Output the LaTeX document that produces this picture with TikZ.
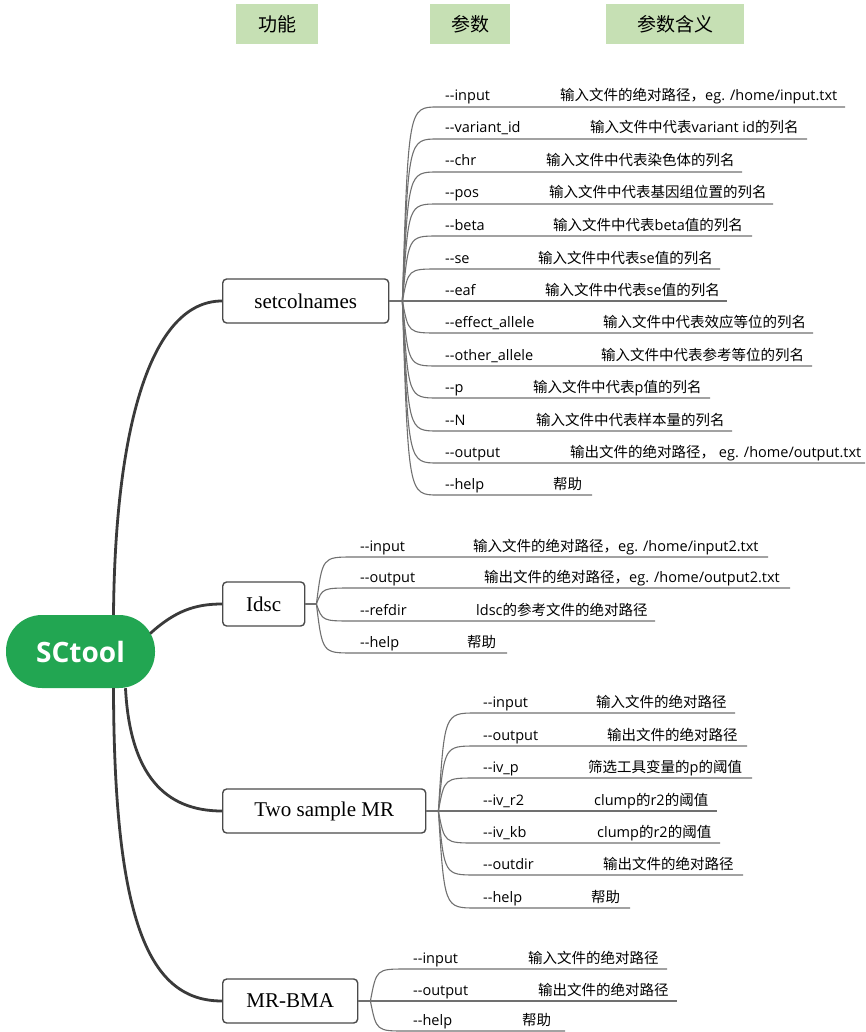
\documentclass[tikz,border=0pt]{standalone}
\usepackage{fontspec}
\setmainfont{Open Sans}
\newfontfamily\cjk{Noto Sans CJK SC}
\newfontfamily\boxserif{Liberation Serif}
\newcommand{\zh}[1]{{\cjk #1}}

\definecolor{rootgreen}{HTML}{22A652}
\definecolor{hdrgreen}{HTML}{C6E0B4}
\definecolor{trunk}{HTML}{3A3A3A}
\definecolor{twig}{HTML}{707070}
\definecolor{boxline}{HTML}{4A4A4A}

\tikzset{
  hdr/.style={fill=hdrgreen, minimum height=40, inner sep=0pt, font=\cjk\fontsize{19}{22}\selectfont},
  root/.style={fill=rootgreen, rounded corners=36, minimum width=149, minimum height=73,
    text=white, font=\fontsize{28}{32}\selectfont\bfseries},
  func/.style={draw=boxline, line width=1.4, rounded corners=4, fill=white, anchor=west,
    minimum height=44, font=\boxserif\fontsize{21}{24}\selectfont},
  opt/.style={anchor=base west, inner sep=0pt, font=\fontsize{14.5}{17}\selectfont},
  trunkline/.style={draw=trunk, line width=2.8},
  twigline/.style={draw=twig, line width=1.1},
}

\begin{document}
\begin{tikzpicture}[x=1pt,y=-1pt]
  \useasboundingbox (0,0) rectangle (865,1032);

  % column headers
  \node[hdr, minimum width=82] (hfunc) at (277,24) {功能};
  \node[hdr, minimum width=80] (hpar) at (470,24) {参数};
  \node[hdr, minimum width=138] (hmean) at (675,24) {参数含义};

  % root and functions
  \node[root] (root) at (80.5,651.5) {SCtool};
  \node[func, minimum width=166] (setcol) at (222,301) {setcolnames};
  \node[func, minimum width=82] (ldsc) at (222,604) {Idsc};
  \node[func, minimum width=203] (twomr) at (222,811) {Two sample MR};
  \node[func, minimum width=135] (mrbma) at (222,1001) {MR-BMA};

  \begin{scope}[trunkline]
    \draw ([xshift=33pt]root.north) .. controls (115,430) and (150,301) .. (setcol.west);
    \draw ([xshift=-5pt,yshift=18pt]root.east) .. controls (175,611) and (195,604) .. (ldsc.west);
    \draw ([xshift=45pt]root.south) .. controls (130,775) and (165,811) .. (twomr.west);
    \draw ([xshift=33pt]root.south) .. controls (114,925) and (150,1001) .. (mrbma.west);
  \end{scope}

  % setcolnames options
  \coordinate (fA) at ([xshift=13pt]setcol.east);
  \coordinate (a1) at (438,107);  \coordinate (a1e) at (845,107);
  \coordinate (a2) at (438,139);  \coordinate (a2e) at (807,139);
  \coordinate (a3) at (438,172);  \coordinate (a3e) at (742,172);
  \coordinate (a4) at (438,204);  \coordinate (a4e) at (773,204);
  \coordinate (a5) at (438,236);  \coordinate (a5e) at (752,236);
  \coordinate (a6) at (438,269);  \coordinate (a6e) at (720,269);
  \coordinate (a7) at (438,301);  \coordinate (a7e) at (727,301);
  \coordinate (a8) at (438,333);  \coordinate (a8e) at (813,333);
  \coordinate (a9) at (438,366);  \coordinate (a9e) at (812,366);
  \coordinate (a10) at (438,398); \coordinate (a10e) at (710,398);
  \coordinate (a11) at (438,431); \coordinate (a11e) at (732,431);
  \coordinate (a12) at (438,463); \coordinate (a12e) at (865,463);
  \coordinate (a13) at (438,495); \coordinate (a13e) at (592,495);
  \node[opt] (a1o) at (445,101) {-{}-input};
  \node[opt] (a1d) at (560,101) {\zh{输入文件的绝对路径，}eg. /home/input.txt};
  \node[opt] (a2o) at (445,133) {-{}-variant\_id};
  \node[opt] (a2d) at (590,133) {\zh{输入文件中代表}variant id\zh{的列名}};
  \node[opt] (a3o) at (445,166) {-{}-chr};
  \node[opt] (a3d) at (546,166) {\zh{输入文件中代表染色体的列名}};
  \node[opt] (a4o) at (445,198) {-{}-pos};
  \node[opt] (a4d) at (549,198) {\zh{输入文件中代表基因组位置的列名}};
  \node[opt] (a5o) at (445,230) {-{}-beta};
  \node[opt] (a5d) at (553,230) {\zh{输入文件中代表}beta\zh{值的列名}};
  \node[opt] (a6o) at (445,263) {-{}-se};
  \node[opt] (a6d) at (538,263) {\zh{输入文件中代表}se\zh{值的列名}};
  \node[opt] (a7o) at (445,295) {-{}-eaf};
  \node[opt] (a7d) at (545,295) {\zh{输入文件中代表}se\zh{值的列名}};
  \node[opt] (a8o) at (445,327) {-{}-effect\_allele};
  \node[opt] (a8d) at (603,327) {\zh{输入文件中代表效应等位的列名}};
  \node[opt] (a9o) at (445,360) {-{}-other\_allele};
  \node[opt] (a9d) at (601,360) {\zh{输入文件中代表参考等位的列名}};
  \node[opt] (a10o) at (445,392) {-{}-p};
  \node[opt] (a10d) at (533,392) {\zh{输入文件中代表}p\zh{值的列名}};
  \node[opt] (a11o) at (445,425) {-{}-N};
  \node[opt] (a11d) at (536,425) {\zh{输入文件中代表样本量的列名}};
  \node[opt] (a12o) at (445,457) {-{}-output};
  \node[opt] (a12d) at (570,457) {\zh{输出文件的绝对路径，} eg. /home/output.txt};
  \node[opt] (a13o) at (445,489) {-{}-help};
  \node[opt] (a13d) at (553,489) {\zh{帮助}};

  % ldsc options
  \coordinate (fB) at ([xshift=11pt]ldsc.east);
  \coordinate (b1) at (353,557); \coordinate (b1e) at (768,557);
  \coordinate (b2) at (353,588); \coordinate (b2e) at (790,588);
  \coordinate (b3) at (353,621); \coordinate (b3e) at (655,621);
  \coordinate (b4) at (353,653); \coordinate (b4e) at (507,653);
  \node[opt] (b1o) at (360,551) {-{}-input};
  \node[opt] (b1d) at (473,551) {\zh{输入文件的绝对路径，}eg. /home/input2.txt};
  \node[opt] (b2o) at (360,582) {-{}-output};
  \node[opt] (b2d) at (484,582) {\zh{输出文件的绝对路径，}eg. /home/output2.txt};
  \node[opt] (b3o) at (360,615) {-{}-refdir};
  \node[opt] (b3d) at (476,615) {ldsc\zh{的参考文件的绝对路径}};
  \node[opt] (b4o) at (360,647) {-{}-help};
  \node[opt] (b4d) at (467,647) {\zh{帮助}};

  % two sample MR options
  \coordinate (fC) at ([xshift=12pt]twomr.east);
  \coordinate (c1) at (476,713); \coordinate (c1e) at (735,713);
  \coordinate (c2) at (476,746); \coordinate (c2e) at (747,746);
  \coordinate (c3) at (476,778); \coordinate (c3e) at (752,778);
  \coordinate (c4) at (476,811); \coordinate (c4e) at (717,811);
  \coordinate (c5) at (476,843); \coordinate (c5e) at (720,843);
  \coordinate (c6) at (476,875); \coordinate (c6e) at (743,875);
  \coordinate (c7) at (476,908); \coordinate (c7e) at (630,908);
  \node[opt] (c1o) at (483,707) {-{}-input};
  \node[opt] (c1d) at (596,707) {\zh{输入文件的绝对路径}};
  \node[opt] (c2o) at (483,740) {-{}-output};
  \node[opt] (c2d) at (607,740) {\zh{输出文件的绝对路径}};
  \node[opt] (c3o) at (483,772) {-{}-iv\_p};
  \node[opt] (c3d) at (588,772) {\zh{筛选工具变量的}p\zh{的阈值}};
  \node[opt] (c4o) at (483,805) {-{}-iv\_r2};
  \node[opt] (c4d) at (594,805) {clump\zh{的}r2\zh{的阈值}};
  \node[opt] (c5o) at (483,837) {-{}-iv\_kb};
  \node[opt] (c5d) at (597,837) {clump\zh{的}r2\zh{的阈值}};
  \node[opt] (c6o) at (483,869) {-{}-outdir};
  \node[opt] (c6d) at (603,869) {\zh{输出文件的绝对路径}};
  \node[opt] (c7o) at (483,902) {-{}-help};
  \node[opt] (c7d) at (591,902) {\zh{帮助}};

  % MR-BMA options
  \coordinate (fD) at ([xshift=12pt]mrbma.east);
  \coordinate (d1) at (406,969);  \coordinate (d1e) at (667,969);
  \coordinate (d2) at (406,1001); \coordinate (d2e) at (677,1001);
  \coordinate (d3) at (406,1031); \coordinate (d3e) at (565,1031);
  \node[opt] (d1o) at (413,963) {-{}-input};
  \node[opt] (d1d) at (528,963) {\zh{输入文件的绝对路径}};
  \node[opt] (d2o) at (413,995) {-{}-output};
  \node[opt] (d2d) at (538,995) {\zh{输出文件的绝对路径}};
  \node[opt] (d3o) at (413,1025) {-{}-help};
  \node[opt] (d3d) at (522,1025) {\zh{帮助}};

  \begin{scope}[twigline]
    \draw (setcol.east) -- (fA);
    \draw (fA) .. controls ([xshift=6pt]fA |- a1) .. (a1) -- (a1e);
    \draw (fA) .. controls ([xshift=6pt]fA |- a2) .. (a2) -- (a2e);
    \draw (fA) .. controls ([xshift=6pt]fA |- a3) .. (a3) -- (a3e);
    \draw (fA) .. controls ([xshift=6pt]fA |- a4) .. (a4) -- (a4e);
    \draw (fA) .. controls ([xshift=6pt]fA |- a5) .. (a5) -- (a5e);
    \draw (fA) .. controls ([xshift=6pt]fA |- a6) .. (a6) -- (a6e);
    \draw (fA) -- (a7) -- (a7e);
    \draw (fA) .. controls ([xshift=6pt]fA |- a8) .. (a8) -- (a8e);
    \draw (fA) .. controls ([xshift=6pt]fA |- a9) .. (a9) -- (a9e);
    \draw (fA) .. controls ([xshift=6pt]fA |- a10) .. (a10) -- (a10e);
    \draw (fA) .. controls ([xshift=6pt]fA |- a11) .. (a11) -- (a11e);
    \draw (fA) .. controls ([xshift=6pt]fA |- a12) .. (a12) -- (a12e);
    \draw (fA) .. controls ([xshift=6pt]fA |- a13) .. (a13) -- (a13e);
    \draw (ldsc.east) -- (fB);
    \draw (fB) .. controls ([xshift=6pt]fB |- b1) .. (b1) -- (b1e);
    \draw (fB) .. controls ([xshift=6pt]fB |- b2) .. (b2) -- (b2e);
    \draw (fB) .. controls ([xshift=6pt]fB |- b3) .. (b3) -- (b3e);
    \draw (fB) .. controls ([xshift=6pt]fB |- b4) .. (b4) -- (b4e);
    \draw (twomr.east) -- (fC);
    \draw (fC) .. controls ([xshift=6pt]fC |- c1) .. (c1) -- (c1e);
    \draw (fC) .. controls ([xshift=6pt]fC |- c2) .. (c2) -- (c2e);
    \draw (fC) .. controls ([xshift=6pt]fC |- c3) .. (c3) -- (c3e);
    \draw (fC) -- (c4) -- (c4e);
    \draw (fC) .. controls ([xshift=6pt]fC |- c5) .. (c5) -- (c5e);
    \draw (fC) .. controls ([xshift=6pt]fC |- c6) .. (c6) -- (c6e);
    \draw (fC) .. controls ([xshift=6pt]fC |- c7) .. (c7) -- (c7e);
    \draw (mrbma.east) -- (fD);
    \draw (fD) .. controls ([xshift=6pt]fD |- d1) .. (d1) -- (d1e);
    \draw (fD) -- (d2) -- (d2e);
    \draw (fD) .. controls ([xshift=6pt]fD |- d3) .. (d3) -- (d3e);
  \end{scope}
\end{tikzpicture}
\end{document}
